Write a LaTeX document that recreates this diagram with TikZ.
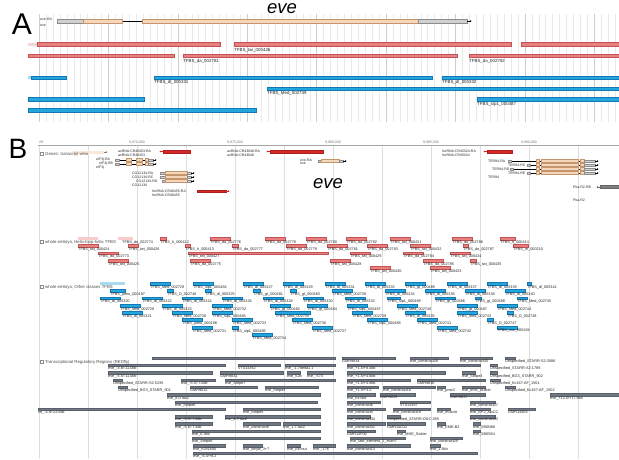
\documentclass[tikz,border=0pt]{standalone}
\usepackage{fontspec}
\setmainfont{Liberation Sans}
\usetikzlibrary{arrows.meta}
\definecolor{tfred}{RGB}{232,128,128}
\definecolor{tfredline}{RGB}{196,82,82}
\definecolor{tfblue}{RGB}{34,166,222}
\definecolor{tfblueline}{RGB}{20,120,180}
\definecolor{exon}{RGB}{246,214,184}
\definecolor{exonline}{RGB}{196,150,110}
\definecolor{utr}{RGB}{208,208,208}
\definecolor{utrline}{RGB}{140,140,140}
\definecolor{ncred}{RGB}{214,40,40}
\definecolor{rfgray}{RGB}{112,120,132}
\definecolor{gridlt}{RGB}{234,234,234}
\definecolor{griddk}{RGB}{205,205,205}
\begin{document}
\begin{tikzpicture}[x=1pt,y=-1pt,
  redbar/.style={fill=tfred,draw=tfredline,line width=0.3pt},
  bluebar/.style={fill=tfblue,draw=tfblueline,line width=0.3pt},
  rfbar/.style={fill=rfgray,draw=rfgray!80!black,line width=0.2pt},
  exonbox/.style={fill=exon,draw=exonline,line width=0.3pt},
  utrbox/.style={fill=utr,draw=utrline,line width=0.3pt},
  ncbar/.style={fill=ncred,draw=ncred!80!black,line width=0.2pt},
  tip/.style={line width=0.3pt,-{Stealth[length=1.6pt,width=1.8pt]}},
  lbl/.style={font=\fontsize{3.8}{4}\selectfont,anchor=north west,inner sep=0pt,text=black!85},
  lblA/.style={font=\fontsize{4.4}{5}\selectfont,anchor=north west,inner sep=0pt,text=black!85},
  glbl/.style={font=\fontsize{3.5}{4}\selectfont,anchor=west,inner sep=0pt,text=black!85},
  ticklbl/.style={font=\fontsize{3.5}{4}\selectfont,anchor=south,inner sep=0pt,text=black!55},
  hdr/.style={font=\fontsize{4.3}{5}\selectfont,anchor=west,inner sep=0pt,text=black!70},
  panel/.style={font=\fontsize{30}{32}\selectfont},
  title/.style={font=\fontsize{18.5}{20}\selectfont\itshape}]
\useasboundingbox[fill=white] (0,0) rectangle (619,459);

\foreach \i in {0,...,83} \draw[gridlt,line width=0.3pt] ({39+6.94*\i},14)--({39+6.94*\i},122);
\foreach \i in {0,...,8} \draw[griddk,line width=0.4pt] ({39+69.4*\i},14)--({39+69.4*\i},122);
\node[panel] (labA) at (22,24) {A};
\node[title] (titA) at (282,8.3) {eve};
\draw[line width=0.4pt] (122,21)--(142,21);
\draw[utrbox] (57,19.2) rectangle (83,22.8);
\draw[exonbox] (83,18.8) rectangle (122,23.2);
\draw[exonbox] (142,18.8) rectangle (418,23.2);
\draw[utrbox] (418,19.2) rectangle (467,22.8);
\draw[tip] (467,21)--(471.5,21);
\node[glbl] at (40,19) {eve-RA};
\node[glbl] at (40,25.5) {eve};
\fill[tfred!35] (28,42.6) rectangle (37,46);
\fill[tfblue!40] (28,76) rectangle (31,79.4);
\foreach \a/\b/\y in {37/220/44.3,234/511/44.3,521/619/44.3,28/174/55.7,183/457/55.7,469/619/55.7}
  \draw[redbar] (\a,\y-1.7) rectangle (\b,\y+1.7);
\foreach \a/\b/\y in {31/66/77.7,154/432/77.7,442/619/77.7,267/619/88.7,28/144/99.3,477/619/99.3,28/256/110.3}
  \draw[bluebar] (\a,\y-1.7) rectangle (\b,\y+1.7);
\foreach \x/\y/\t in {234/47.8/twi\_000426,183/59.3/da\_002781,469/59.3/da\_002782,154/80.6/dl\_005331,442/80.6/dl\_005332,267/91.6/Med\_002739,477/102.6/slp1\_000487}
  \node[lblA] at (\x,\y) {TFBS\_\t};

\node[panel,font=\fontsize{28}{30}\selectfont] (labB) at (18,149) {B};
\foreach \i in {0,...,11} \draw[gridlt!95!black,line width=0.4pt] ({39+49*\i},146)--({39+49*\i},459);
\draw[black!35,line width=0.5pt] (38,145)--(619,145);
\node[ticklbl,anchor=south west] at (39,144) {2R};
\foreach \x/\t in {137/970,235/975,333/980,431/985,529/990} \node[ticklbl] at (\x,144) {9,\t,000};
\fill[exon!55] (73,150.5) rectangle (104,153.5);
\draw[tip,black!50] (104,152)--(107.5,152);
\foreach \y/\t in {154/{Genes: transcript view},242/{whole embryo, Helix-loop-helix TFBS},287/{whole embryo, Other classes TFBS},362/{Transcriptional Regulatory Regions (REDfly)}} {
  \draw[black!45,line width=0.3pt] (40,\y-1.4) rectangle (42.8,\y+1.4);
  \node[hdr] at (45,\y) {\t};}

\draw[ncbar] (163,150.3) rectangle (190,152.7);
\draw[tip,ncred] (163,151.5)--(159.5,151.5);
\node[glbl] at (118,151.5) {asRNA:CR46453-RA};
\node[glbl] at (118,155.5) {asRNA:CR46453};
\draw[ncbar] (270,150.3) rectangle (323,152.7);
\draw[tip,ncred] (270,151.5)--(266.5,151.5);
\node[glbl] at (227,151.5) {asRNA:CR43046-RA};
\node[glbl] at (227,155.5) {asRNA:CR43046};
\draw[ncbar] (487,150.3) rectangle (512,152.7);
\draw[tip,ncred] (487,151.5)--(483.5,151.5);
\node[glbl] at (442,151.5) {lncRNA:CR45324-RA};
\node[glbl] at (442,155.5) {lncRNA:CR45324};
\draw[ncbar] (197,189.8) rectangle (226,192.2);
\draw[tip,ncred] (226,191)--(229.5,191);
\node[glbl] at (152,191) {lncRNA:CR46455-RA};
\node[glbl] at (152,195) {lncRNA:CR46455};
\foreach \y in {160,164} {
  \draw[line width=0.3pt] (115,\y)--(153,\y);
  \draw[utrbox] (115,\y-1.3) rectangle (119,\y+1.3);
  \draw[exonbox] (126,\y-1.5) rectangle (131,\y+1.5);
  \draw[exonbox] (136,\y-1.5) rectangle (142,\y+1.5);
  \draw[exonbox] (145,\y-1.5) rectangle (148,\y+1.5);
  \draw[utrbox] (148,\y-1.3) rectangle (153,\y+1.3);
  \draw[tip] (153,\y)--(156.5,\y);}
\node[glbl] at (96,160) {eIF3j-RA};
\node[glbl] at (99,164) {eIF3j-RB};
\node[glbl] at (96,168) {eIF3j};
\foreach \s/\y in {160/173,160/177,162/181} {
  \draw[utrbox] (\s,\y-1.3) rectangle (165,\y+1.3);
  \draw[exonbox] (165,\y-1.5) rectangle (187,\y+1.5);
  \draw[utrbox] (187,\y-1.3) rectangle (191,\y+1.3);
  \draw[tip] (191,\y)--(194.5,\y);}
\node[glbl] at (132,173) {CG12134-RA};
\node[glbl] at (132,177) {CG12134-RC};
\node[glbl] at (136,181) {CG12134-RD};
\node[glbl] at (132,185) {CG12134};
\draw[utrbox] (318,159.7) rectangle (321,162.3);
\draw[exonbox] (321,159.5) rectangle (339,162.5);
\draw[utrbox] (339,159.7) rectangle (343,162.3);
\draw[tip] (343,161)--(346.5,161);
\node[glbl] at (300,160) {eve-RA};
\node[glbl] at (300,164) {eve};
\node[title] (titB) at (328,183.3) {eve};
\foreach \s/\y in {508/161,527/165,510/169,527/173} {
  \draw[line width=0.3pt] (\s,\y)--(595,\y);
  \draw[utrbox] (\s,\y-1.3) rectangle (\s+3,\y+1.3);
  \draw[exonbox] (536,\y-1.5) rectangle (539,\y+1.5);
  \draw[exonbox] (541,\y-1.5) rectangle (578,\y+1.5);
  \draw[exonbox] (580,\y-1.5) rectangle (584,\y+1.5);
  \draw[utrbox] (584,\y-1.3) rectangle (595,\y+1.3);
  \draw[tip] (595,\y)--(598.5,\y);}
\node[glbl] at (488,161) {TER94-RA};
\node[glbl] at (508,165) {TER94-RC};
\node[glbl] at (492,169) {TER94-RD};
\node[glbl] at (508,173) {TER94-RE};
\node[glbl] at (488,177) {TER94};
\draw[fill=black!50,draw=black!60,line width=0.3pt] (600,185.6) rectangle (619,188.4);
\draw[tip,black!60] (600,187)--(596.5,187);
\node[glbl] at (573,187) {Pka-R2-RB};
\node[glbl] at (573,200) {Pka-R2};

\foreach \a/\b in {78/98,118/133} \fill[tfred!40] (\a,237.2) rectangle (\b,239.8);
\node[lbl] at (122,240.1) {TFBS\_da\_002774};
\foreach \a/\b/\r/\t in {160/166/1/h\_000412,210/230/1/da\_002776,265/285/1/da\_002778,306/326/1/da\_002780,346/366/1/da\_002782,390/410/1/twi\_000431,452/472/1/da\_002786,500/515/1/h\_000414,
  78/98/2/twi\_000424,128/138/2/twi\_000426,185/190/2/h\_000413,232/238/2/da\_002777,286/306/2/da\_002779,327/347/2/da\_002781,367/387/2/da\_002783,410/430/2/twi\_000432,463/468/2/da\_002787,513/528/2/m\_000210,
  98/118/3/da\_002773,188/328/3/twi\_000427,350/370/3/twi\_000429,403/423/3/da\_002784,450/470/3/twi\_000434,
  108/128/4/twi\_000425,190/210/4/da\_002775,330/350/4/twi\_000428,423/443/4/da\_002785,470/476/4/twi\_000435,
  370/390/5/twi\_000430,430/450/5/twi\_000433} {
  \pgfmathsetmacro\yy{238.5+7.3*(\r-1)}
  \draw[redbar] (\a,\yy-1.3) rectangle (\b,\yy+1.3);
  \node[lbl] at (\a,\yy+1.7) {TFBS\_\t};}

\fill[tfblue!40] (100,282) rectangle (125,285);
\foreach \a/\b/\r/\t in {150/170/1/Med\_002729,193/213/1/slp1\_000484,243/263/1/dl\_005327,283/303/1/dl\_005329,325/345/1/dl\_005331,365/385/1/dl\_005333,405/425/1/gt\_000485,447/467/1/dl\_005337,487/507/1/dl\_005339,527/531/1/dl\_005341,
  110/125/2/jumu\_000187,167/173/2/D\_002746,205/211/2/dl\_005325,253/260/2/gt\_000481,290/296/2/gt\_000483,332/352/2/Med\_002738,385/405/2/dl\_005334,425/445/2/dl\_005336,465/485/2/dl\_005338,505/525/2/dl\_005340,
  100/120/3/dl\_005320,142/162/3/dl\_005322,182/202/3/dl\_005324,222/242/3/dl\_005326,263/283/3/dl\_005328,303/323/3/dl\_005330,345/365/3/dl\_005332,387/400/3/slp1\_000489,435/455/3/gt\_000486,475/481/3/gt\_000488,517/527/3/Med\_002745,
  120/140/4/Med\_002728,162/182/4/dl\_005323,212/232/4/Med\_002732,270/290/4/gt\_000482,307/327/4/gt\_000484,347/367/4/slp1\_000487,397/417/4/Med\_002740,457/477/4/gt\_000487,497/517/4/Med\_002744,
  122/142/5/dl\_005321,172/192/5/Med\_002730,212/232/5/slp1\_000485,275/310/5/Med\_002735,352/372/5/Med\_002739,405/425/5/dl\_005335,457/477/5/Med\_002743,507/513/5/D\_002748,
  182/202/6/jumu\_000188,232/252/6/Med\_002733,292/312/6/Med\_002736,367/387/6/slp1\_000488,417/437/6/Med\_002741,487/493/6/D\_002747,
  192/212/7/Med\_002731,232/238/7/slp1\_000486,312/332/7/Med\_002737,437/457/7/Med\_002742,497/517/7/cnc\_000184,
  252/272/8/Med\_002734} {
  \pgfmathsetmacro\yy{283.5+7.3*(\r-1)}
  \draw[bluebar] (\a,\yy-1.4) rectangle (\b,\yy+1.4);
  \node[lbl] at (\a,\yy+1.8) {TFBS\_\t};}

\foreach \a/\b/\r/\t in {152/335/0/{},342/395/0/GMR9834,410/448/0/eve\_construct28,460/492/0/eve\_construct30,505/515/0/Unspecified\_STARR-S2-3086,
  108/225/1/{eve\_-4.8/-11.0kb},238/280/1/VT014362,285/335/1/eve\_-1.7delta1.1,347/480/1/{eve\_+1.5/+8.4kb},490/497/1/Unspecified\_STARR-S2-1789,
  108/212/2/{eve\_-5.5/-11.0kb},220/283/2/GMR9831,287/300/2/eve\_52b,307/333/2/eve\_-574,347/445/2/{eve\_+1.5/+4.6kb},462/475/2/eve\_Stripe3,490/497/2/Unspecified\_BG3\_STARR\_902,
  113/122/3/Unspecified\_STARR-S2-5235,181/215/3/{eve\_-5.5/-7.0kb},225/335/3/eve\_Stripe7,347/410/3/{eve\_+1.5/+4.8kb},417/485/3/GMR9836,490/500/3/Unspecified\_Kc167-AF\_1501,
  118/127/4/Unspecified\_BG3\_STARR\_901,190/257/4/GMR9012,265/318/4/eve\_Stripe4,347/378/4/{eve\_+1.5/+3.2},383/435/4/eve\_construct18,437/445/4/eve\_pme2,462/485/4/eve\_mh5\_Stalter,505/515/4/Unspecified\_Kc167-AF\_1502,
  167/320/5/eve\_8.0-lacZ,347/375/5/eve\_hz-like,380/415/5/GMR9835,450/485/5/GMR9837,550/619/5/{eve\_+12.0/+17.5kb},
  175/317/6/eve\_Stripe6,347/380/6/eve\_construct6,400/430/6/VT014367,470/495/6/eve\_construct27,
  38/225/7/{ve\_-4.8/-22.0kb},243/320/7/eve\_Stripe5,347/385/7/eve\_construct5,393/430/7/eve\_construct19,437/450/7/eve\_muscle,470/490/7/eve\_EP2\_alpCC,508/535/7/GMR14804,
  175/212/8/{eve\_-5.5/-7.4kb},225/320/8/eve\_4.7-lacZ,347/370/8/eve\_construct34,387/400/8/Unspecified\_STARR-OSC-285,470/495/8/eve\_construct33,
  175/212/9/{eve\_-5.6/-7.4kb},243/280/9/eve\_construct8,283/320/9/eve\_1.7-lacZ,347/385/9/eve\_construct32,387/425/9/GMR14D12,437/445/9/eve\_EME-B2,473/480/9/eve\_5B0N86,
  192/320/10/eve\_6.3kb,347/375/10/GMR14F06,397/405/10/eve\_MHE\_Stalter,473/480/10/eve\_5B0S84,
  192/320/11/eve\_Stripe8,350/405/11/eve\_late\_element\_2\_even7,430/462/11/eve\_construct29,
  193/225/12/eve\_h291600,243/262/12/eve\_stripe\_3+7,287/300/12/eve\_EEmut,313/335/12/eve\_-176,347/410/12/eve\_construct13,430/440/12/eve\_1.8kb,
  193/477/13/{eve\_-6.4/+8.2}} {
  \pgfmathsetmacro\yy{358+7.3*\r}
  \draw[rfbar] (\a,\yy-1.2) rectangle (\b,\yy+1.2);
  \node[lbl] at (\a,\yy+1.6) {\t};}
\end{tikzpicture}
\end{document}
